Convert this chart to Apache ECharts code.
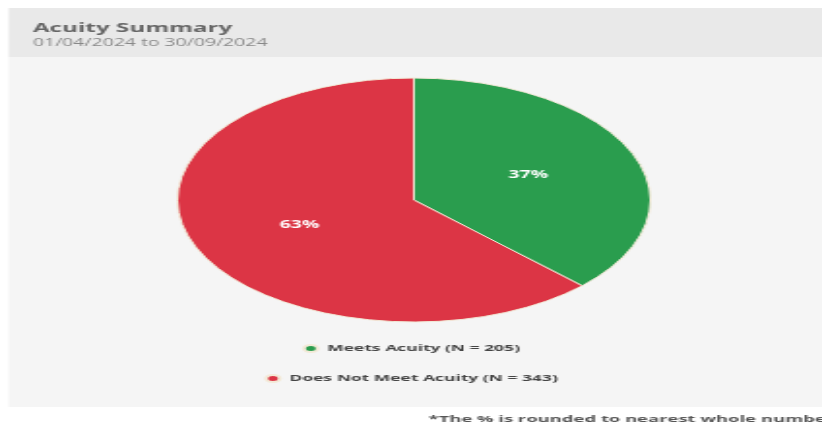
<!DOCTYPE html>
<html>
<head>
<meta charset="utf-8">
<script src="https://cdn.jsdelivr.net/npm/echarts@6/dist/echarts.min.js"></script>
<style>
  html, body { margin: 0; padding: 0; background: #fff; overflow: hidden; }
  /* the reference is stretched sideways, so the chart is drawn narrow and widened */
  #chart { width: 424px; height: 423px; transform: scaleX(1.9387); transform-origin: 0 0; }
</style>
</head>
<body>
<div id="chart"></div>
<script>
// data
const categories = ['Meets Acuity', 'Does Not Meet Acuity'];
const counts = [205, 343];
const colors = ['#2a9d4e', '#dc3545'];

const titleText = 'Acuity Summary';
const subText = '01/04/2024 to 30/09/2024';
const footNote = '*The % is rounded to nearest whole number';

const font = '"Open Sans", "Liberation Sans", sans-serif';

const chart = echarts.init(document.getElementById('chart'));

const legendLabel = (name) => {
  const i = categories.indexOf(name);
  return name + ' (N = ' + counts[i] + ')';
};

const option = {
  animation: false,
  backgroundColor: '#fff',
  graphic: [
    // header band
    { type: 'rect', z: -10, shape: { x: 4.5, y: 8, width: 424, height: 49 }, style: { fill: '#e9e9e9' } },
    // body panel
    { type: 'rect', z: -10, shape: { x: 4.5, y: 57, width: 424, height: 350 }, style: { fill: '#f5f5f5' } },
  ],
  title: [
    {
      text: titleText,
      subtext: subText,
      left: 12,
      top: 17,
      itemGap: 3,
      textStyle: { fontFamily: font, fontSize: 12.5, fontWeight: 'bold', color: '#666' },
      subtextStyle: { fontFamily: font, fontSize: 10, color: '#888' },
    },
    {
      text: footNote,
      left: 216,
      top: 409,
      textStyle: { fontFamily: font, fontSize: 9.5, fontWeight: 'bold', color: '#555' },
    },
  ],
  legend: categories.map((name, i) => ({
    data: [name],
    orient: 'vertical',
    left: 'center',
    top: 339 + i * 30,
    icon: 'circle',
    itemWidth: 7,
    itemHeight: 7,
    formatter: legendLabel,
    selectedMode: false,
    textStyle: { fontFamily: font, fontSize: 9, fontWeight: 'bold', color: '#444' },
  })),
  series: [
    {
      type: 'pie',
      center: [213.5, 200],
      radius: 122,
      startAngle: 90,
      clockwise: true,
      itemStyle: { borderColor: '#f3ead8', borderWidth: 1 },
      label: {
        position: 'inside',
        formatter: (p) => Math.round(p.percent) + '%',
        fontFamily: font,
        fontSize: 10,
        fontWeight: 'bold',
        color: '#fff',
      },
      labelLine: { show: false },
      emphasis: { disabled: true },
      data: categories.map((name, i) => ({
        name: name,
        value: counts[i],
        itemStyle: { color: colors[i] },
      })),
    },
  ],
};

chart.setOption(option);
</script>
</body>
</html>
